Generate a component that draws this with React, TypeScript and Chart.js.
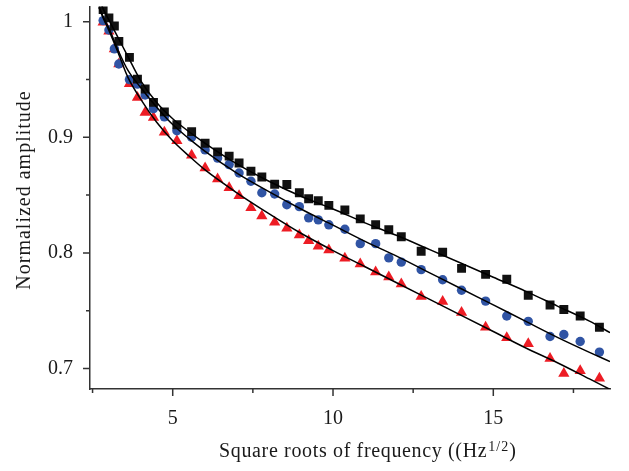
import { useEffect, useRef } from 'react';
import { Chart, registerables } from 'chart.js';

Chart.register(...registerables);

// ---- data ----
const freqX = [2.83, 3.01, 3.18, 3.32, 3.65, 3.9, 4.14, 4.4, 4.74, 5.13, 5.59, 6.01, 6.4, 6.76, 7.07, 7.44, 7.78, 8.18, 8.56, 8.95, 9.24, 9.54, 9.87, 10.37, 10.85, 11.33, 11.74, 12.13, 12.75, 13.42, 14.01, 14.76, 15.42, 16.09, 16.77, 17.2, 17.71, 18.31];
const squareY = [1.0105, 1.0033, 0.9962, 0.9829, 0.9691, 0.9503, 0.9417, 0.9302, 0.922, 0.9109, 0.9049, 0.8948, 0.8874, 0.8837, 0.8777, 0.8706, 0.8657, 0.8594, 0.8591, 0.852, 0.8468, 0.8451, 0.8411, 0.8371, 0.8294, 0.8243, 0.82, 0.814, 0.8014, 0.8005, 0.7866, 0.7814, 0.7772, 0.7634, 0.7549, 0.7511, 0.7454, 0.7357];
const circleY = [1.0009, 0.9928, 0.9765, 0.9634, 0.9499, 0.946, 0.9366, 0.9248, 0.9177, 0.9057, 0.9, 0.8891, 0.882, 0.8764, 0.8691, 0.862, 0.852, 0.8509, 0.8417, 0.84, 0.8303, 0.8286, 0.8243, 0.8205, 0.808, 0.808, 0.7957, 0.792, 0.7855, 0.7768, 0.7677, 0.7583, 0.7454, 0.7408, 0.7277, 0.7294, 0.7234, 0.7142];
const triangleY = [0.9994, 0.9917, 0.9763, 0.9634, 0.9463, 0.9343, 0.9214, 0.9171, 0.9043, 0.8971, 0.8845, 0.8734, 0.864, 0.8563, 0.8494, 0.8391, 0.832, 0.8265, 0.8214, 0.8154, 0.8106, 0.8057, 0.8025, 0.7954, 0.7905, 0.7834, 0.7791, 0.7731, 0.7622, 0.7579, 0.7485, 0.7357, 0.7266, 0.7214, 0.7086, 0.6957, 0.698, 0.6915];

const fitX = [2.7, 2.85, 3.0, 3.3, 3.6, 4.0, 4.5, 5.0, 5.5, 6.0, 7.0, 8.0, 9.0, 10.0, 11.0, 12.0, 13.0, 14.0, 15.0, 16.0, 17.0, 18.0, 18.64];
const fitSquareY = [1.02, 1.01, 1.002, 0.986, 0.97, 0.949, 0.93, 0.916, 0.905, 0.895, 0.877, 0.862, 0.849, 0.838, 0.826, 0.815, 0.803, 0.791, 0.779, 0.767, 0.754, 0.741, 0.731];
const fitCircleY = [1.013, 1.003, 0.995, 0.975, 0.958, 0.943, 0.926, 0.911, 0.899, 0.888, 0.869, 0.853, 0.838, 0.824, 0.81, 0.797, 0.783, 0.769, 0.755, 0.741, 0.727, 0.714, 0.706];
const fitTriangleY = [1.012, 1.002, 0.993, 0.973, 0.952, 0.933, 0.913, 0.897, 0.884, 0.872, 0.852, 0.834, 0.817, 0.802, 0.788, 0.774, 0.76, 0.746, 0.732, 0.718, 0.705, 0.691, 0.682];

const xMajorTicks = [5, 10, 15];
const xMinorTicks = [2.5, 7.5, 12.5, 17.5];
const yMajorTicks = [0.7, 0.8, 0.9, 1];
const yMinorTicks = [0.75, 0.85, 0.95];

const xTitleMain = 'Square roots of frequency ((Hz';
const xTitleSup = '1/2';
const xTitleEnd = ')';
const yTitle = 'Normalized amplitude';

// ---- styles ----
const FONT = '"Liberation Serif", "Times New Roman", serif';
const AXIS_COLOR = '#333333';
const TEXT_COLOR = '#1a1a1a';
const BLACK = '#111111';
const BLUE = '#3054a4';
const RED = '#ed1c24';

const toPts = (xs: number[], ys: number[]) => xs.map((x, i) => ({ x, y: ys[i] }));

const decorPlugin = {
  id: 'decor',
  afterDraw(chart: any) {
    const ctx: CanvasRenderingContext2D = chart.ctx;
    const xs = chart.scales.x;
    const ys = chart.scales.y;
    const area = chart.chartArea;
    ctx.save();
    ctx.strokeStyle = AXIS_COLOR;
    ctx.lineWidth = 1.5;
    ctx.beginPath();
    for (const v of xMajorTicks) {
      const p = xs.getPixelForValue(v);
      ctx.moveTo(p, area.bottom);
      ctx.lineTo(p, area.bottom + 7);
    }
    for (const v of xMinorTicks) {
      const p = xs.getPixelForValue(v);
      ctx.moveTo(p, area.bottom);
      ctx.lineTo(p, area.bottom + 4);
    }
    for (const v of yMajorTicks) {
      const p = ys.getPixelForValue(v);
      ctx.moveTo(area.left, p);
      ctx.lineTo(area.left - 7, p);
    }
    for (const v of yMinorTicks) {
      const p = ys.getPixelForValue(v);
      ctx.moveTo(area.left, p);
      ctx.lineTo(area.left - 4, p);
    }
    ctx.stroke();

    // x title with superscript
    ctx.fillStyle = TEXT_COLOR;
    ctx.textAlign = 'left';
    ctx.textBaseline = 'alphabetic';
    (ctx as any).letterSpacing = '0.65px';
    ctx.font = `20px ${FONT}`;
    let x = 219;
    ctx.fillText(xTitleMain, x, 457);
    x += ctx.measureText(xTitleMain).width + 1;
    (ctx as any).letterSpacing = '1px';
    ctx.font = `14px ${FONT}`;
    ctx.fillText(xTitleSup, x, 451);
    x += ctx.measureText(xTitleSup).width;
    (ctx as any).letterSpacing = '0.65px';
    ctx.font = `20px ${FONT}`;
    ctx.fillText(xTitleEnd, x, 457);

    // y title
    (ctx as any).letterSpacing = '1px';
    ctx.translate(30, 190);
    ctx.rotate(-Math.PI / 2);
    ctx.textAlign = 'center';
    ctx.fillText(yTitle, 0, 0);
    ctx.restore();
  },
};

export default function App() {
  const ref = useRef<HTMLCanvasElement | null>(null);

  useEffect(() => {
    if (!ref.current) return;
    const lineDs = (ys: number[]) => ({
      type: 'line' as const,
      data: toPts(fitX, ys),
      borderColor: '#000000',
      borderWidth: 1.5,
      pointRadius: 0,
      showLine: true,
      fill: false,
      cubicInterpolationMode: 'monotone' as const,
      order: 0,
    });
    const chart = new Chart(ref.current, {
      type: 'scatter',
      data: {
        datasets: [
          {
            data: toPts(freqX, squareY),
            pointStyle: 'rect',
            pointRadius: 6.3,
            pointBackgroundColor: BLACK,
            pointBorderColor: BLACK,
            pointBorderWidth: 0,
            order: 1,
          },
          {
            data: toPts(freqX, circleY),
            pointStyle: 'circle',
            pointRadius: 4.7,
            pointBackgroundColor: BLUE,
            pointBorderColor: BLUE,
            pointBorderWidth: 0,
            order: 1,
          },
          {
            data: toPts(freqX, triangleY),
            pointStyle: 'triangle',
            pointRadius: 6.5,
            pointBackgroundColor: RED,
            pointBorderColor: RED,
            pointBorderWidth: 0,
            order: 1,
          },
          lineDs(fitSquareY) as any,
          lineDs(fitCircleY) as any,
          lineDs(fitTriangleY) as any,
        ],
      },
      options: {
        responsive: false,
        animation: false,
        devicePixelRatio: 1,
        layout: { padding: { top: 3, right: 19, left: 0, bottom: 0 } },
        plugins: { legend: { display: false }, tooltip: { enabled: false } },
        scales: {
          x: {
            type: 'linear',
            min: 2.42,
            max: 18.64,
            afterFit: (s: any) => {
              s.height = 82;
              s.paddingLeft = 0;
              s.paddingRight = 0;
              s.paddingTop = 0;
              s.paddingBottom = 0;
            },
            afterBuildTicks: (s: any) => {
              s.ticks = xMajorTicks.map((v) => ({ value: v }));
            },
            grid: { display: false, drawTicks: false },
            border: { display: true, color: AXIS_COLOR, width: 1.5 },
            ticks: {
              autoSkip: false,
              maxRotation: 0,
              padding: 18,
              color: TEXT_COLOR,
              font: { family: FONT, size: 20 },
              callback: (v: any) => String(v),
            },
          },
          y: {
            type: 'linear',
            min: 0.6823,
            max: 1.0131,
            afterFit: (s: any) => {
              s.width = 90;
              s.paddingLeft = 0;
              s.paddingRight = 0;
              s.paddingTop = 0;
              s.paddingBottom = 0;
            },
            afterBuildTicks: (s: any) => {
              s.ticks = yMajorTicks.map((v) => ({ value: v }));
            },
            grid: { display: false, drawTicks: false },
            border: { display: true, color: AXIS_COLOR, width: 1.5 },
            ticks: {
              autoSkip: false,
              padding: 17,
              color: TEXT_COLOR,
              font: { family: FONT, size: 20 },
              callback: (v: any) => String(v),
            },
          },
        },
      },
      plugins: [decorPlugin],
    });
    return () => chart.destroy();
  }, []);

  return (
    <div style={{ position: 'absolute', left: 0, top: 0, width: 629, height: 471, background: '#fff' }}>
      <canvas ref={ref} width={629} height={471} style={{ display: 'block' }} />
    </div>
  );
}
